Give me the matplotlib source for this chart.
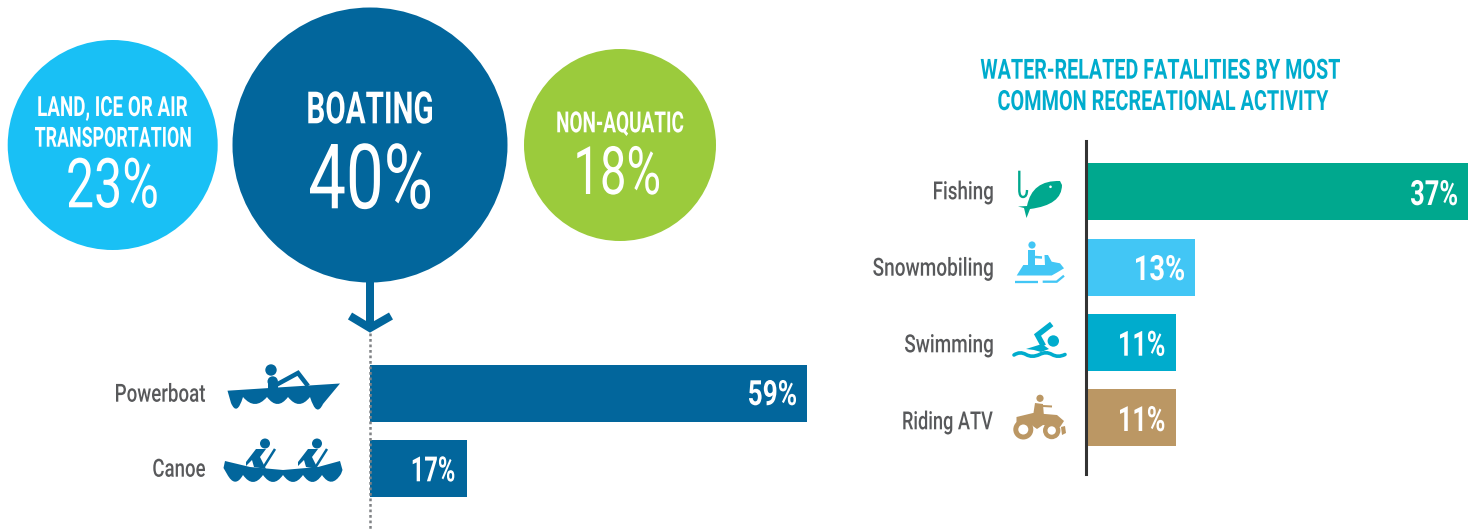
import matplotlib
matplotlib.use('Agg')
import matplotlib.pyplot as plt
from matplotlib.patches import Circle, Polygon, PathPatch
from matplotlib.path import Path
from matplotlib.patheffects import AbstractPathEffect
from matplotlib.transforms import Affine2D

# values
big_labels = ['23%', '40%', '18%']
boat_names = ['Powerboat', 'Canoe']
boat_labels = ['59%', '17%']
boat_bars = [437, 97]      # drawn lengths, they are not to scale with the labels
act_names = ['Fishing', 'Snowmobiling', 'Swimming', 'Riding ATV']
act_labels = ['37%', '13%', '11%', '11%']
act_bars = [381, 108, 88.5, 88.5]
title_lines = ['WATER-RELATED FATALITIES BY MOST', 'COMMON RECREATIONAL ACTIVITY']

DARK = '#02669C'
CYAN = '#19C0F5'
GREEN = '#9BCB3C'
TEAL = '#00A88E'
SKY = '#42C6F5'
AQUA = '#00ACCD'
TAN = '#BB9764'
GRAY = '#58595B'
act_colors = [TEAL, SKY, AQUA, TAN]

plt.rcParams['font.family'] = ['Roboto', 'DejaVu Sans']

fig = plt.figure(figsize=(14.78, 5.29), dpi=100)
ax = fig.add_axes([0, 0, 1, 1])
ax.set_xlim(0, 1478)
ax.set_ylim(529, 0)
ax.axis('off')


class FitWidth(AbstractPathEffect):
    # the font is wider than the original, so squeeze the glyphs in between x0 and x1
    def __init__(self, x0, x1):
        super().__init__()
        self.x0, self.x1 = x0, x1

    def draw_path(self, renderer, gc, tpath, affine, rgbFace=None):
        box = tpath.get_extents(affine)
        sx = (self.x1 - self.x0) / box.width
        t = affine + Affine2D().translate(-box.x0, 0).scale(sx, 1).translate(self.x0, 0)
        renderer.draw_path(gc, tpath, t, rgbFace)


def label(s, x0, x1, base, size, color='white', weight='bold', ha='center'):
    x = (x0 + x1) / 2 if ha == 'center' else x0
    t = ax.text(x, base, s, ha=ha, va='baseline', fontsize=size,
                color=color, fontweight=weight)
    t.set_path_effects([FitWidth(x0, x1)])


def line(pts, color, lw, cap='butt', join='miter'):
    ax.plot(*zip(*pts), color=color, lw=lw * 0.72, solid_capstyle=cap, solid_joinstyle=join)


def dot(x, y, r, color):
    ax.add_patch(Circle((x, y), r, fc=color, ec='none'))


def poly(pts, color):
    ax.add_patch(Polygon(pts, closed=True, fc=color, ec='none'))


def scallops(start, cusps, end, depth, color, top):
    # hull: top edge from right to left, then round waves along the bottom
    verts = list(top) + [start]
    codes = [Path.MOVETO] + [Path.LINETO] * len(top)
    prev = start
    for c in cusps + [end]:
        verts += [((prev[0] + c[0]) / 2, max(prev[1], c[1]) + depth), c]
        codes += [Path.CURVE3, Path.CURVE3]
        prev = c
    verts.append(top[0])
    codes.append(Path.CLOSEPOLY)
    ax.add_patch(PathPatch(Path(verts, codes), fc=color, ec='none'))


# big circles
dot(112.7, 145, 105, CYAN)
dot(370, 145, 137.5, DARK)
dot(620, 145, 96, GREEN)

label('LAND, ICE OR AIR', 38.3, 187.3, 116, 20)
label('TRANSPORTATION', 35, 190.7, 146.7, 20, ha='left')
label(big_labels[0], 68.3, 156.7, 207.3, 49.6, weight='normal')
label('BOATING', 308.3, 432, 123.3, 32)
label(big_labels[1], 310, 430, 208.3, 65, weight='normal')
label('NON-AQUATIC', 557.3, 683.3, 132.3, 21)
label(big_labels[2], 577.3, 659, 194, 48, weight='normal')

# arrow out of the boating circle
ax.plot([370, 370], [333, 529], color='#808285', lw=1.8, ls=(0, (1.1, 1.1)))
line([(370, 281), (370, 327)], DARK, 8)
line([(350, 316), (370, 328), (391, 316)], DARK, 8)

# boating bars
boat_y = [393, 468.5]
ax.barh(boat_y, boat_bars, height=57, left=370, color=DARK)
label(boat_names[0], 116, 205, 401.7, 18, GRAY, 'medium')
label(boat_names[1], 153.3, 205, 476.7, 18, GRAY, 'medium')
label(boat_labels[0], 749, 796, 405, 25)
label(boat_labels[1], 412.7, 454.3, 481.3, 25)

# activity bars
act_y = [191.5, 267, 342.3, 417.5]
ax.barh(act_y, act_bars, height=57, left=1087, color=act_colors)
ax.plot([1086, 1086], [141, 474], color='#333333', lw=2.2)
for name, x0, base in zip(act_names, [934, 873.3, 905, 903.3], [199.3, 275.7, 352.3, 429.3]):
    label(name, x0, 992.7, base, 18, GRAY, 'medium')
label(act_labels[0], 1411, 1457, 205, 25)
label(act_labels[1], 1136, 1184, 280, 25)
label(act_labels[2], 1120, 1164.3, 355.7, 25)
label(act_labels[3], 1120, 1164.3, 431, 25)

label(title_lines[0], 980.7, 1340, 78.7, 20, AQUA)
label(title_lines[1], 998.3, 1328.3, 110, 20, AQUA)

# powerboat icon
scallops((231, 403), [(243, 397), (267, 397), (288, 397), (310, 397)], (323, 404), 14, DARK,
         [(340, 383.5), (227.5, 390.7)])
dot(271, 370, 5.7, DARK)
dot(272.7, 381.5, 5.2, DARK)
poly([(268, 382), (278, 382), (278, 390), (268, 390)], DARK)
line([(276, 385), (298, 373), (308, 386)], DARK, 4.5)

# canoe icon
scallops((227, 474), [(243, 475), (263, 475), (283, 475), (303, 475), (322, 475)], (341, 474), 14, DARK,
         [(342.5, 470), (340, 461), (318, 467), (283, 470), (250, 467), (225, 461), (223.5, 468)])
for dx in [0, 52]:
    dot(265 + dx, 443.5, 5, DARK)
    poly([(246 + dx, 462), (256 + dx, 449), (266 + dx, 449), (260 + dx, 457),
          (266 + dx, 469), (254 + dx, 467), (252 + dx, 460), (246 + dx, 466)], DARK)
    line([(275 + dx, 449), (263 + dx, 468)], DARK, 2.5)

# fishing icon
hook = Path([(1019.3, 170.7), (1019.3, 190), (1019.3, 197), (1023, 197), (1027, 197), (1027, 190)],
            [Path.MOVETO, Path.LINETO, Path.CURVE3, Path.CURVE3, Path.CURVE3, Path.CURVE3])
ax.add_patch(PathPatch(hook, fc='none', ec=TEAL, lw=1.7))
fish = Path([(1027, 206), (1032, 180), (1060, 181), (1062, 185), (1062, 205), (1030, 209),
             (1026.5, 218), (1024, 208), (1018, 206.5), (1027, 206)],
            [Path.MOVETO, Path.CURVE3, Path.CURVE3, Path.LINETO, Path.CURVE3, Path.CURVE3,
             Path.LINETO, Path.LINETO, Path.LINETO, Path.CLOSEPOLY])
ax.add_patch(PathPatch(fish, fc=TEAL, ec='none'))
dot(1050.5, 186.8, 1.3, 'white')

# snowmobile icon
dot(1032, 245, 3.6, SKY)
poly([(1028.3, 250), (1035, 250), (1035, 267), (1028.3, 267)], SKY)
line([(1035, 257), (1042, 257.5)], SKY, 2.5)
poly([(1016.7, 275.5), (1023.3, 265), (1035, 265), (1045, 265), (1044.5, 255), (1048, 255), (1051.7, 261.7),
      (1060, 263.3), (1064, 268.3), (1056.7, 272.7), (1051.7, 275.5)], SKY)
line([(1015, 281.7), (1038.3, 281.7)], SKY, 2.3)
line([(1042.7, 281.7), (1056.7, 281.7), (1064, 275.7)], SKY, 2.3)

# swimming icon
dot(1053.3, 341, 5.7, AQUA)
line([(1051.7, 324), (1037.5, 335), (1043.5, 346)], AQUA, 5.5)
poly([(1026, 349), (1042, 344), (1049, 349), (1041, 352), (1034, 350)], AQUA)
wave = Path([(1014, 355), (1020, 351), (1026, 354.5), (1032, 358), (1039.5, 354.5), (1046, 351), (1052, 354.5),
             (1058, 358), (1065, 354.5)], [Path.MOVETO] + [Path.CURVE3] * 8)
ax.add_patch(PathPatch(wave, fc='none', ec=AQUA, lw=2.6, capstyle='round'))

# atv icon
dot(1040, 398.3, 3.6, TAN)
poly([(1035, 403), (1043, 404), (1044, 417), (1033, 416)], TAN)
line([(1043, 406), (1052, 406.5)], TAN, 2)
poly([(1016.5, 417), (1033, 413), (1057, 415), (1064, 421), (1060, 427), (1043, 425), (1037, 429), (1030, 424),
      (1016.5, 424)], TAN)
for x, y, r, r2 in [(1023.3, 429.5, 10, 5), (1051.7, 430.5, 8.7, 4.2)]:
    dot(x, y, r, TAN)
    dot(x, y, r2, 'white')
poly([(1061, 427), (1065, 426), (1066, 433), (1062, 435)], TAN)

plt.savefig('out.png', dpi=100)
